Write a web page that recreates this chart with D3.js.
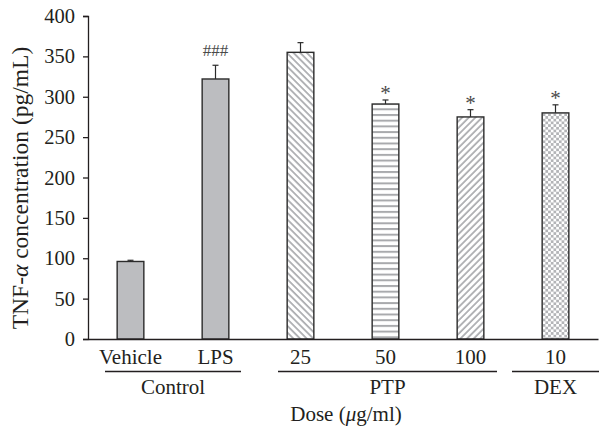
<!DOCTYPE html>
<html>
<head>
<meta charset="utf-8">
<script src="https://cdn.jsdelivr.net/npm/d3@7"></script>
<style>
  body { margin: 0; background: #fff; }
  svg text { font-family: "Liberation Serif", "Times New Roman", serif; fill: #231f20; }
</style>
</head>
<body>
<div id="container"></div>
<script>
/* DATA */
const doses = ["Vehicle", "LPS", "25", "50", "100", "10"];
const means = [96, 322, 355, 291, 275, 280];
const errors = [1.5, 17, 12, 5, 9, 10];
const marks = ["", "###", "", "*", "*", "*"];
const fills = ["solid", "solid", "back", "horiz", "fwd", "check"];
const groups = ["Control", "PTP", "DEX"];
const yTicks = [0, 50, 100, 150, 200, 250, 300, 350, 400];

/* CONSTANTS */
const width = 599,
  height = 430,
  margin = { top: 16, bottom: 91, left: 88, right: 1 };

const svg = d3.select("#container")
  .append("svg")
  .attr("width", width)
  .attr("height", height);

/* SCALES */
const xScale = d3.scaleBand()
  .domain(doses)
  .range([margin.left, width - margin.right])
  .paddingInner(0.686)
  .paddingOuter(0.343);

const yScale = d3.scaleLinear()
  .domain([0, 400])
  .range([height - margin.bottom, margin.top]);

/* PATTERNS */
const defs = svg.append("defs");
const hatch = "#a9aaad";

// "\" diagonal
const back = defs.append("pattern").attr("id", "back")
  .attr("patternUnits", "userSpaceOnUse").attr("width", 4.7).attr("height", 4.7)
  .attr("patternTransform", "rotate(-45)");
back.append("rect").attr("width", 4.7).attr("height", 4.7).attr("fill", "#fff");
back.append("line").attr("x1", 1).attr("y1", 0).attr("x2", 1).attr("y2", 4.7)
  .attr("stroke", hatch).attr("stroke-width", 1.7);

// "/" diagonal
const fwd = defs.append("pattern").attr("id", "fwd")
  .attr("patternUnits", "userSpaceOnUse").attr("width", 4.7).attr("height", 4.7)
  .attr("patternTransform", "rotate(45)");
fwd.append("rect").attr("width", 4.7).attr("height", 4.7).attr("fill", "#fff");
fwd.append("line").attr("x1", 1).attr("y1", 0).attr("x2", 1).attr("y2", 4.7)
  .attr("stroke", hatch).attr("stroke-width", 1.7);

const horiz = defs.append("pattern").attr("id", "horiz")
  .attr("patternUnits", "userSpaceOnUse").attr("width", 6).attr("height", 5.7);
horiz.append("rect").attr("width", 6).attr("height", 5.7).attr("fill", "#fff");
horiz.append("line").attr("x1", 0).attr("y1", 1).attr("x2", 6).attr("y2", 1)
  .attr("stroke", hatch).attr("stroke-width", 2);

const check = defs.append("pattern").attr("id", "check")
  .attr("patternUnits", "userSpaceOnUse").attr("width", 5.4).attr("height", 5.4);
check.append("rect").attr("width", 5.4).attr("height", 5.4).attr("fill", "#b3b4b7");
check.append("rect").attr("width", 2.7).attr("height", 2.7).attr("fill", "#fff");
check.append("rect").attr("x", 2.7).attr("y", 2.7).attr("width", 2.7).attr("height", 2.7).attr("fill", "#fff");

const fillOf = f => f === "solid" ? "#bcbdc0" : `url(#${f})`;

const data = doses.map((d, i) => ({ dose: d, mean: means[i], err: errors[i], mark: marks[i], fill: fills[i] }));

/* BARS */
svg.selectAll("rect.bar")
  .data(data)
  .join("rect")
  .attr("class", "bar")
  .attr("x", d => xScale(d.dose))
  .attr("y", d => yScale(d.mean))
  .attr("width", xScale.bandwidth())
  .attr("height", d => yScale(0) - yScale(d.mean))
  .attr("fill", d => fillOf(d.fill))
  .attr("stroke", "#2b2b2b")
  .attr("stroke-width", 1.4);

// error bars (upper only)
const cx = d => xScale(d.dose) + xScale.bandwidth() / 2;
svg.selectAll("line.err")
  .data(data)
  .join("line")
  .attr("class", "err")
  .attr("x1", cx).attr("x2", cx)
  .attr("y1", d => yScale(d.mean))
  .attr("y2", d => yScale(d.mean + d.err))
  .attr("stroke", "#2b2b2b").attr("stroke-width", 1.2);
svg.selectAll("line.cap")
  .data(data)
  .join("line")
  .attr("class", "cap")
  .attr("x1", d => cx(d) - 3).attr("x2", d => cx(d) + 3)
  .attr("y1", d => yScale(d.mean + d.err))
  .attr("y2", d => yScale(d.mean + d.err))
  .attr("stroke", "#2b2b2b").attr("stroke-width", 1.2);

// significance marks
svg.selectAll("text.mark")
  .data(data.filter(d => d.mark))
  .join("text")
  .attr("class", "mark")
  .attr("x", cx)
  .attr("y", d => yScale(d.mean + d.err) - (d.mark === "*" ? 0 : 9))
  .attr("text-anchor", "middle")
  .style("font-size", d => d.mark === "*" ? "21px" : "17px")
  .style("fill", "#4a4a4a")
  .text(d => d.mark);

/* AXES */
const yAxis = d3.axisLeft(yScale).tickValues(yTicks).tickSize(5).tickPadding(8);
const gy = svg.append("g")
  .attr("transform", `translate(${margin.left},0)`)
  .call(yAxis);
gy.select(".domain").attr("stroke", "#231f20").attr("stroke-width", 1.3);
gy.selectAll(".tick line").attr("stroke", "#231f20").attr("stroke-width", 1.3);
gy.selectAll(".tick text").style("font-size", "20.5px").attr("fill", "#231f20")
  .style("font-family", "Liberation Serif, serif");

const xAxis = d3.axisBottom(xScale).tickSize(0);
const gx = svg.append("g")
  .attr("transform", `translate(0,${yScale(0)})`)
  .call(xAxis);
gx.select(".domain").attr("stroke", "#231f20").attr("stroke-width", 1.3);
gx.selectAll(".tick text").style("font-size", "21px").attr("fill", "#231f20")
  .attr("y", 24.5).attr("dy", 0)
  .style("font-family", "Liberation Serif, serif");

// group brackets
const groupSpans = [[105, 241], [278, 497], [512, 599]];
groups.forEach((g, i) => {
  svg.append("line")
    .attr("x1", groupSpans[i][0]).attr("x2", groupSpans[i][1])
    .attr("y1", 371.5).attr("y2", 371.5)
    .attr("stroke", "#231f20").attr("stroke-width", 1.3);
  svg.append("text")
    .attr("x", (groupSpans[i][0] + groupSpans[i][1]) / 2)
    .attr("y", 394)
    .attr("text-anchor", "middle")
    .style("font-size", "21px")
    .text(g);
});

// axis titles
svg.append("text")
  .attr("x", 346)
  .attr("y", 421)
  .attr("text-anchor", "middle")
  .style("font-size", "21px")
  .html('Dose (<tspan font-style="italic">μ</tspan>g/ml)');

svg.append("text")
  .attr("transform", `translate(28,188) rotate(-90)`)
  .attr("text-anchor", "middle")
  .style("font-size", "23.5px")
  .html('TNF-<tspan font-style="italic">α</tspan> concentration (pg/mL)');
</script>
</body>
</html>
